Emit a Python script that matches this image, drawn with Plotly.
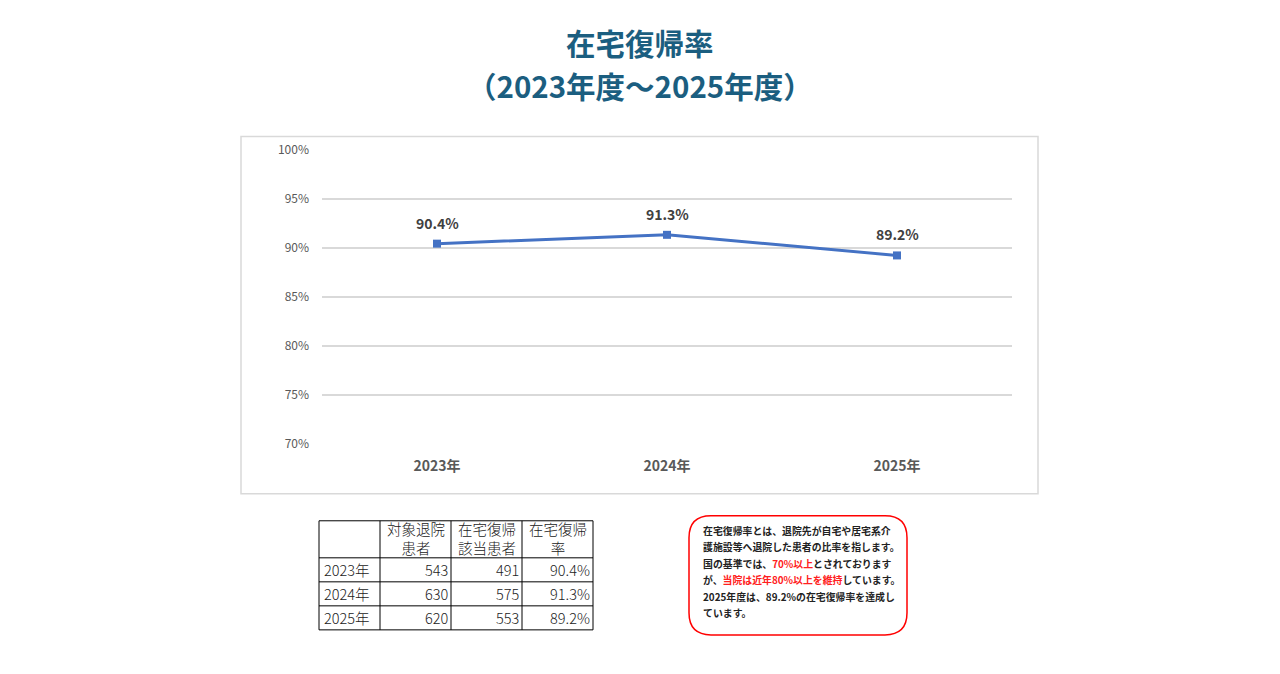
import plotly.graph_objects as go

W, H = 1280, 674

years = ["2023年", "2024年", "2025年"]
rates = [0.904, 0.913, 0.892]
rate_labels = ["90.4%", "91.3%", "89.2%"]
discharged = [543, 630, 620]
returned = [491, 575, 553]

y_ticks = [0.70, 0.75, 0.80, 0.85, 0.90, 0.95, 1.00]
y_tick_text = ["70%", "75%", "80%", "85%", "90%", "95%", "100%"]

header_cols = ["", "対象退院<br>患者", "在宅復帰<br>該当患者", "在宅復帰<br>率"]

title_lines = ["在宅復帰率", "（2023年度～2025年度）"]

box_lines = [
    "在宅復帰率とは、退院先が自宅や居宅系介",
    "護施設等へ退院した患者の比率を指します。",
    "国の基準では、<span style='color:#FF2020'>70%以上</span>とされております",
    "が、<span style='color:#FF2020'>当院は近年80%以上を維持</span>しています。",
    "2025年度は、89.2%の在宅復帰率を達成し",
    "ています。",
]

# rendered page maps paper to ~656.5px height starting ~9.6px from top
Y_OFF, H_R = 9.6, 656.5

def px(x):
    return x / W

def py(y):
    return 1 - (y - Y_OFF) / H_R

fig = go.Figure()

fig.add_trace(go.Scatter(
    x=years, y=rates, mode="lines+markers",
    line=dict(color="#4472C4", width=3),
    marker=dict(symbol="square", size=8, color="#4472C4"),
    hoverinfo="skip", showlegend=False, cliponaxis=False,
))

for yr, v, lab in zip(years, rates, rate_labels):
    fig.add_annotation(x=yr, y=v, xref="x", yref="y", text=lab, showarrow=False,
                       yshift=21, font=dict(family="Noto Sans CJK JP", size=14,
                                            color="#404040", weight="bold"))

# chart border
fig.add_shape(type="rect", xref="paper", yref="paper",
              x0=px(241), x1=px(1038), y0=py(493), y1=py(136),
              line=dict(color="#D9D9D9", width=1.5), layer="below")

# ---- data table (built from the arrays) ----
col_x = [319, 380, 451, 522, 593]
row_y = [520, 557, 581, 605, 629]
tfont = dict(family="Noto Sans CJK JP", size=14.5, color="#222222", weight=300)
for xv in col_x:
    fig.add_shape(type="line", xref="paper", yref="paper", x0=px(xv), x1=px(xv),
                  y0=py(row_y[0]), y1=py(row_y[-1]), line=dict(color="black", width=1))
for yv in row_y:
    fig.add_shape(type="line", xref="paper", yref="paper", x0=px(col_x[0]), x1=px(col_x[-1]),
                  y0=py(yv), y1=py(yv), line=dict(color="black", width=1))
for c, t in enumerate(header_cols):
    cx = (col_x[c] + col_x[c + 1]) / 2
    if t:
        fig.add_annotation(xref="paper", yref="paper", x=px(cx), y=py(537.5),
                           xanchor="center", yanchor="middle", showarrow=False,
                           align="center", text=t, font=tfont)
columns = [years, [str(v) for v in discharged], [str(v) for v in returned], rate_labels]
for c, col in enumerate(columns):
    for r_i, val in enumerate(col):
        cy = (row_y[r_i + 1] + row_y[r_i + 2]) / 2
        if c == 0:
            fig.add_annotation(xref="paper", yref="paper", x=px(col_x[0] + 3), y=py(cy),
                               xanchor="left", yanchor="middle", showarrow=False,
                               text=val, font=tfont)
        else:
            fig.add_annotation(xref="paper", yref="paper", x=px(col_x[c + 1] - 1), y=py(cy),
                               xanchor="right", yanchor="middle", showarrow=False,
                               text=val, font=tfont)

# ---- rounded red note box ----
def pp(xv, yv):
    return f"{px(xv)},{py(yv)}"

x0, x1, y0, y1, r = 689, 907, 515, 634, 22
path = (f"M {pp(x0+r,y0)} L {pp(x1-r,y0)} Q {pp(x1,y0)} {pp(x1,y0+r)} "
        f"L {pp(x1,y1-r)} Q {pp(x1,y1)} {pp(x1-r,y1)} L {pp(x0+r,y1)} "
        f"Q {pp(x0,y1)} {pp(x0,y1-r)} L {pp(x0,y0+r)} Q {pp(x0,y0)} {pp(x0+r,y0)} Z")
fig.add_shape(type="path", xref="paper", yref="paper", path=path,
              line=dict(color="#FF0000", width=1.5), fillcolor="white")

for i, ln in enumerate(box_lines):
    fig.add_annotation(xref="paper", yref="paper", x=px(701), y=py(530 + i * 16.5),
                       xanchor="left", yanchor="middle", align="left", showarrow=False,
                       text=ln,
                       font=dict(family="Noto Sans CJK JP", size=9.9, color="#222222", weight="bold"))

# title
for t, yv in zip(title_lines, [42, 85]):
    fig.add_annotation(xref="paper", yref="paper", x=0.5, y=py(yv),
                       xanchor="center", yanchor="middle", showarrow=False, align="center",
                       text=t,
                       font=dict(family="Noto Sans CJK JP", size=29.5, color="#1B5E80", weight="bold"))

fig.update_layout(
    width=W, height=H,
    margin=dict(l=0, r=0, t=0, b=0),
    paper_bgcolor="white", plot_bgcolor="white",
    xaxis=dict(domain=[px(322), px(1012)], range=[-0.5, 2.5], type="category",
               showgrid=False, showline=False, zeroline=False, ticks="",
               ticklabelstandoff=12,
               tickfont=dict(family="Noto Sans CJK JP", size=14, color="#595959", weight="bold"),
               fixedrange=True),
    yaxis=dict(domain=[py(443), py(149)], range=[0.70, 1.00],
               tickvals=y_ticks, ticktext=y_tick_text,
               showgrid=True, gridcolor="#D9D9D9", gridwidth=1.5,
               showline=False, zeroline=False, ticks="", ticklabelstandoff=12,
               tickfont=dict(family="Noto Sans CJK JP", size=12, color="#595959"),
               fixedrange=True),
)

fig.write_html("out.html")
